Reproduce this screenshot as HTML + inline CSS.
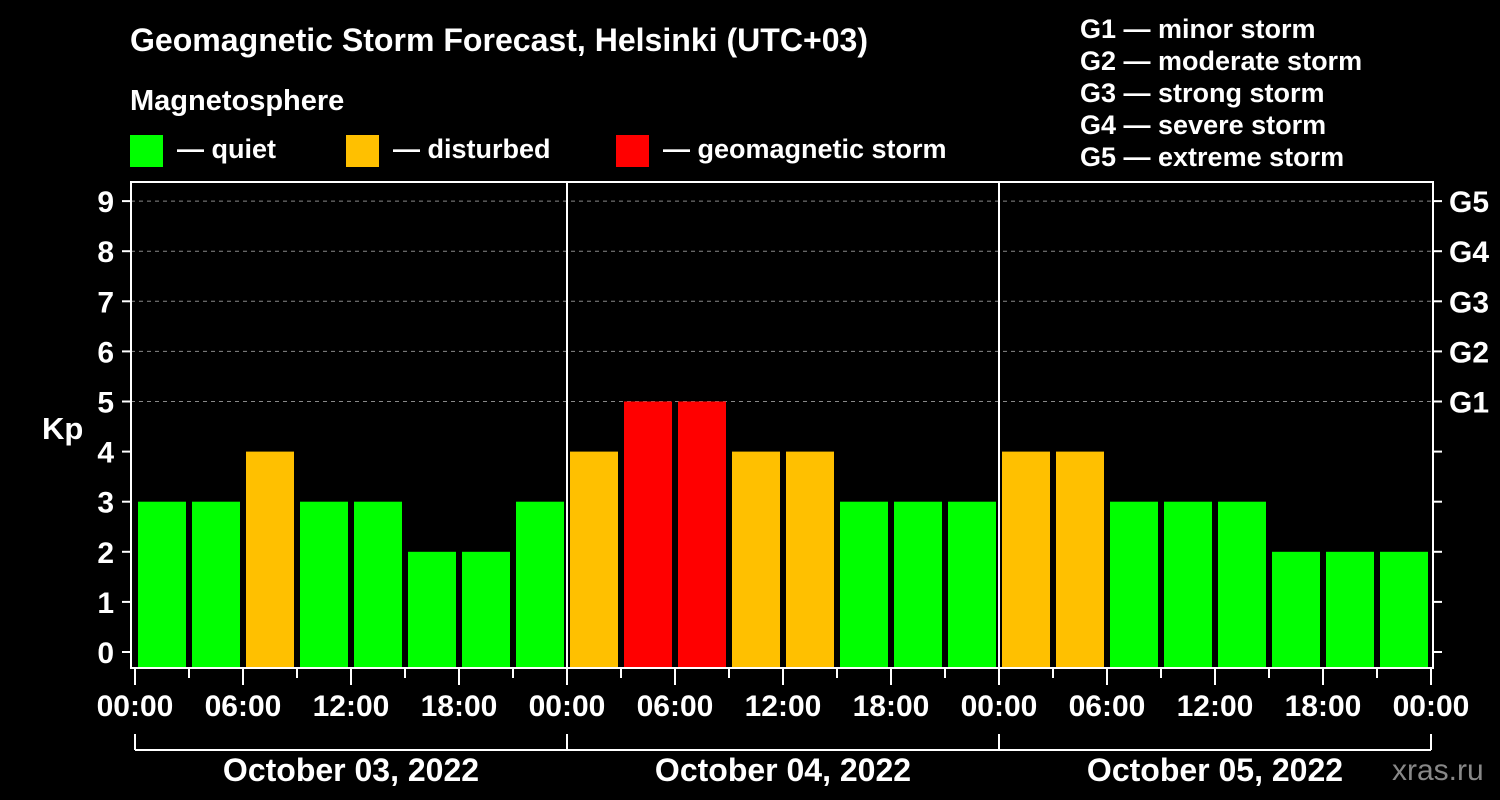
<!DOCTYPE html>
<html><head><meta charset="utf-8"><style>
html,body{margin:0;padding:0;background:#000;}
svg{display:block;font-family:"Liberation Sans",Arial,sans-serif;font-weight:bold;}
</style></head><body>
<svg id="chart" width="1500" height="800" viewBox="0 0 1500 800">
<rect width="1500" height="800" fill="#000"/>
<text x="130" y="51" fill="#fff" font-size="32" textLength="738" lengthAdjust="spacingAndGlyphs">Geomagnetic Storm Forecast, Helsinki (UTC+03)</text>
<text x="130" y="110" fill="#fff" font-size="29">Magnetosphere</text>
<g><rect x="130" y="135" width="33" height="32" fill="#00ff00"/><text x="177" y="158" fill="#fff" font-size="27">— quiet</text></g>
<g><rect x="346" y="135" width="33" height="32" fill="#ffc000"/><text x="393" y="158" fill="#fff" font-size="27">— disturbed</text></g>
<g><rect x="616" y="135" width="33" height="32" fill="#ff0000"/><text x="663" y="158" fill="#fff" font-size="27">— geomagnetic storm</text></g>
<g fill="#fff" font-size="27">
<text x="1080" y="38">G1 — minor storm</text>
<text x="1080" y="70">G2 — moderate storm</text>
<text x="1080" y="102">G3 — strong storm</text>
<text x="1080" y="134">G4 — severe storm</text>
<text x="1080" y="166">G5 — extreme storm</text>
</g>
<text x="42" y="439" fill="#fff" font-size="31">Kp</text>
<g id="grid"></g><g id="bars"></g><g id="axes"></g>
<text x="1392" y="780" fill="#888" font-size="30" font-weight="normal">xras.ru</text>
</svg>
<script>
const days = ["October 03, 2022","October 04, 2022","October 05, 2022"];
const kpValues = [3,3,4,3,3,2,2,3, 4,5,5,4,4,3,3,3, 4,4,3,3,3,2,2,2];
const yTicks = [0,1,2,3,4,5,6,7,8,9];
const gLabels = ["G1","G2","G3","G4","G5"];
const gLevels = [5,6,7,8,9];
const xLabels = ["00:00","06:00","12:00","18:00"];

const NS="http://www.w3.org/2000/svg";
const x0=135, dayW=432, slotW=54;
const yOf=v=>652-v*50.1;
const xOf=slot=>x0+slot*slotW;
function mk(tag,attrs,parent,text){const e=document.createElementNS(NS,tag);for(const k in attrs)e.setAttribute(k,attrs[k]);if(text!==undefined)e.textContent=text;parent.appendChild(e);return e;}
const grid=document.getElementById('grid'),bars=document.getElementById('bars'),axes=document.getElementById('axes');
yTicks.forEach(v=>{ if(v>=5){const l=mk('line',{x1:131,x2:1433,y1:yOf(v),y2:yOf(v),stroke:'#888','stroke-dasharray':'4,4','stroke-width':1},grid);

}});
kpValues.forEach((v,i)=>{
 const col=v>=5?'#ff0000':(v>=4?'#ffc000':'#00ff00');
 const r=mk('rect',{x:xOf(i)+3,y:yOf(v),width:48,height:667-yOf(v),fill:col},bars);
 
 
});
const f=mk('rect',{x:131,y:182,width:1302,height:486,fill:'none',stroke:'#fff','stroke-width':2},axes);


for(let d=1;d<days.length;d++){const l=mk('line',{x1:x0+d*dayW,x2:x0+d*dayW,y1:182,y2:668,stroke:'#fff','stroke-width':2},axes);

}
yTicks.forEach(v=>{
 mk('line',{x1:122,x2:131,y1:yOf(v),y2:yOf(v),stroke:'#fff','stroke-width':2},axes);
 mk('line',{x1:1433,x2:1442,y1:yOf(v),y2:yOf(v),stroke:'#fff','stroke-width':2},axes);
 const t=mk('text',{x:114,y:yOf(v)+11,fill:'#fff','font-size':30,'text-anchor':'end'},axes,String(v));
 
 
});
gLabels.forEach((g,i)=>{const t=mk('text',{x:1449,y:yOf(gLevels[i])+11,fill:'#fff','font-size':30},axes,g);

});
for(let s=0;s<=kpValues.length;s++){
 const major=s%2===0;
 mk('line',{x1:xOf(s),x2:xOf(s),y1:668,y2:major?685:678,stroke:'#fff','stroke-width':2},axes);
 if(major){const t=mk('text',{x:xOf(s),y:716,fill:'#fff','font-size':30,'text-anchor':'middle'},axes,xLabels[(s/2)%4]);
 
 }
}
mk('line',{x1:x0,x2:x0+days.length*dayW,y1:750,y2:750,stroke:'#fff','stroke-width':2},axes);
for(let d=0;d<=days.length;d++) mk('line',{x1:x0+d*dayW,x2:x0+d*dayW,y1:734,y2:750,stroke:'#fff','stroke-width':2},axes);
days.forEach((d,i)=>{const t=mk('text',{x:x0+i*dayW+dayW/2,y:781,fill:'#fff','font-size':32,'text-anchor':'middle'},axes,d);

});
</script>
</body></html>
